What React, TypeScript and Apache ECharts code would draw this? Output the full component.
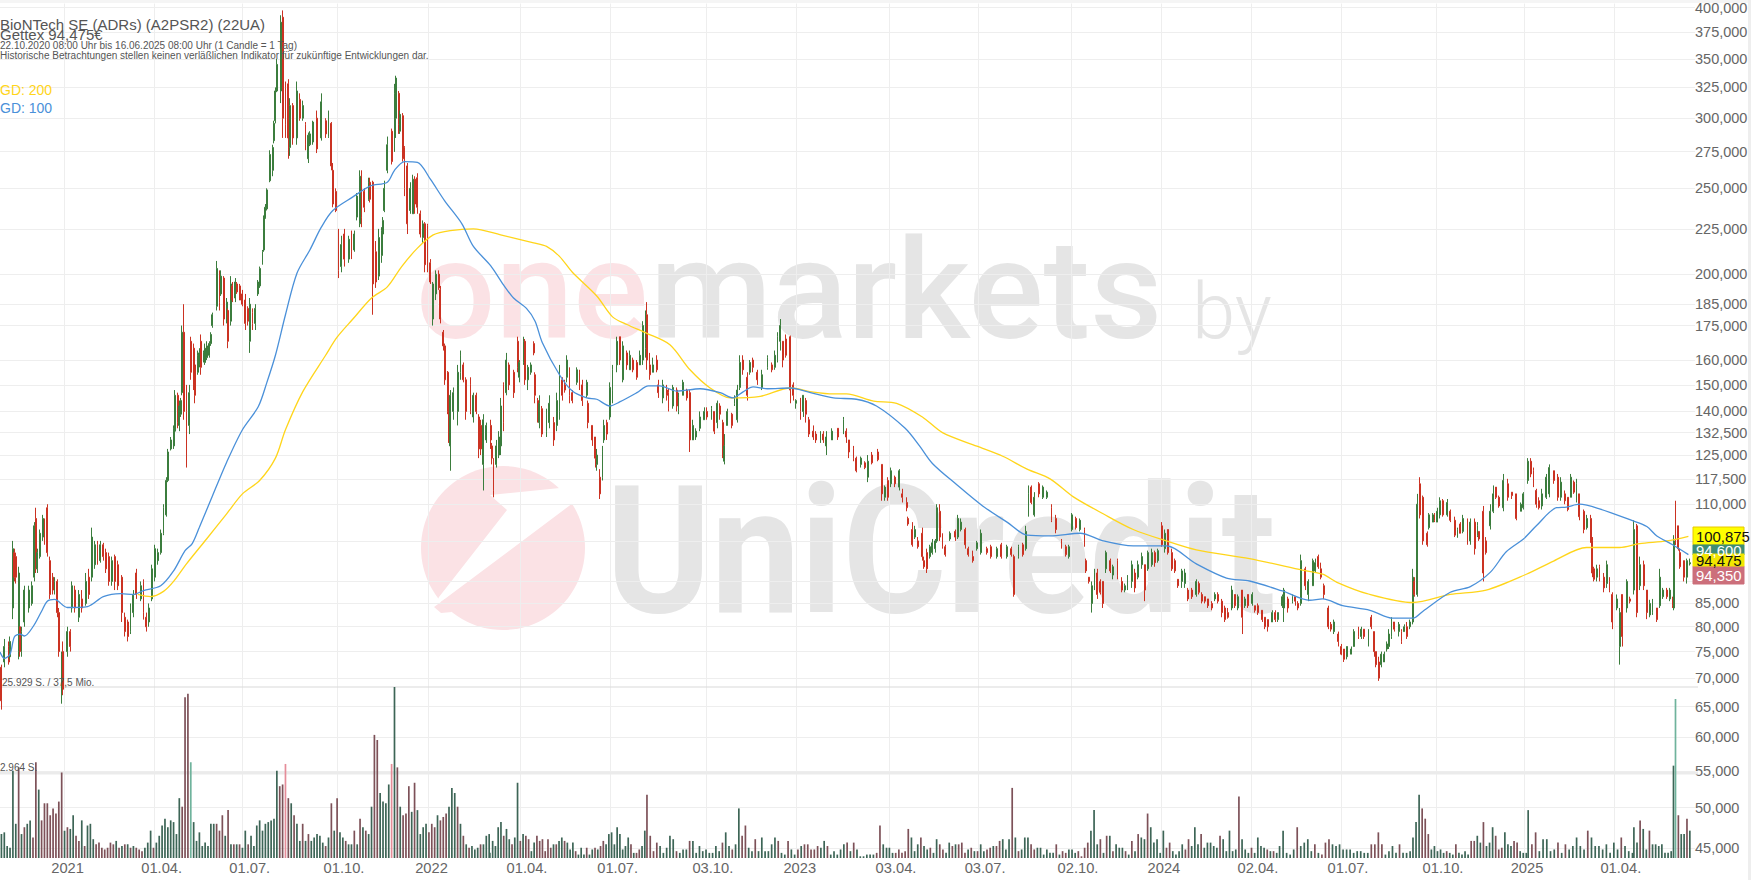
import React, { useEffect, useRef } from "react";
import * as echarts from "echarts";

// Trading-day position of each grid line, of each date label, and the label text
const xTickDays = [45, 107.8, 169.2, 234.9, 298.7, 362.5, 425.7, 492, 555.4, 619.7, 681.8, 746.6, 809.3, 872, 934.8, 1001, 1062.4, 1125];
const xLabelDays = [47.1, 112.7, 174.1, 239.8, 300.8, 367.4, 430.6, 496.9, 557.5, 624.6, 686.7, 751.5, 811.4, 876.9, 939.7, 1005.9, 1064.5, 1129.9];
const xTickLabels = ["2021", "01.04.", "01.07.", "01.10.", "2022", "01.04.", "01.07.", "03.10.", "2023", "03.04.", "03.07.", "02.10.", "2024", "02.04.", "01.07.", "01.10.", "2025", "01.04."];
const priceGridLines = [400, 375, 350, 325, 300, 275, 250, 225, 200, 185, 175, 160, 150, 140, 132.5, 125, 117.5, 110, 100, 90, 85, 80, 75, 70, 65, 60, 55, 50, 45];
const priceLabels = [400, 375, 350, 325, 300, 275, 250, 225, 200, 185, 175, 160, 150, 140, 132.5, 125, 117.5, 110, 85, 80, 75, 70, 65, 60, 55, 50, 45];

// [trading day, open, close, low, high]
const candles2020 = [
[1,72,66,64.5,72.5],[3,73,76,72,77.5],[6,76,73,72.5,77],[7,74,77,73.5,78],[9,84,98,81.6,100],[10,97,91,90,98],[11,96,91,89.5,97],[13,75,92,73.5,93.5],[14,80,75,74,80],[15,75,79,74,80],[17,81,88,80,89],[20,84,88,83,89],[22,85,89,84.5,90],[24,91,104,90,105],[25,106,93,92,109],[26,93,97,92,98],[28,96,102,95.5,103],[30,101,106,100,107],[31,105,100,99,106],[33,109,97,96,110],[35,95,87,86,96],[37,91,88,87,92],[38,88,90,87,91],[40,90,83,82,90.5],[41,83,75,74,84],[43,67,74.5,65.5,75],[44,75,68,67,77]];
const candles2021 = [
[47,75,79,74,80],[49,79,76,75,79.5],[50,84,89,83,90],[52,88,84,83,89],[55,82,87,81,88],[57,86,84,83,88],[60,85,90,84.5,92],[62,91,87,86,93],[64,91,101,90,103.5],[66,94,99,93,100],[68,99,95,94,100],[70,95,99,94.5,100],[72,99,96,95,99.5],[74,97,93,92,98],[76,96,90,89,97],[78,90,95,89,96],[80,96,90,88,96.5],[82,94,89,88,95],[85,91,83,81,91.5],[87,82,79,78,83],[89,81,78,77,81.5],[91,79,84,78.5,85],[93,83,87,82,88],[95,92,87,86,93],[98,86,89,85.5,90],[100,90,83,81.5,90.5],[102,82,80,79,83],[104,81,84,80,85],[106,86,93,85.5,94],[108,91,98,90,99],[110,95,97,94,98],[112,97,102,96.5,103],[114,102,109,101.5,110],[116,107,117,106.5,118],[117,117,126,116.5,127],[119,127,130,126.5,131],[121,128,134,127,135],[122,133,146,132,148],[124,146,136,134,147],[125,135,142,133,144],[126,139,144,138,145],[127,147,172,146,175],[128,172,140,137,185],[130,140,125,121,150],[132,135,147,132,150],[133,168,155,152,170],[135,165,150,148,167],[136,158,146,143,160],[138,155,162,154,164],[139,158,163,157,165],[140,168,157,154,171],[142,160,163,159,164],[143,159,165,158,167],[144,161,166,160,168],[146,162,167,161,168],[147,167,171,166,172],[148,175,180,174,181],[151,184,203,182,207],[153,200,186,182,202],[154,190,199,189,202],[156,198,178,175,199],[158,178,186,176,188],[159,182,168,165,183],[161,177,195,175,199],[162,194,187,186,196],[164,188,196,186,198],[165,195,191,190,196],[167,194,187,187,195],[169,190,185,184,192],[171,187,176,173,190],[173,183,177,175,184],[174,168,185,163,188],[176,181,176,173,183],[178,176,183,173,185],[180,190,196,189,197],[181,194,203,193,204],[183,206,212,205,213],[184,213,232,212,233],[185,232,238,231,240],[186,237,249,236,250],[188,255,273,254,276],[190,262,278,258,280],[191,283,296,281,298],[192,298,322,296,325],[193,322,345,321,350],[196,322,385,312,392],[197,390,300,285,397],[199,325,295,285,330],[201,328,285,270,332],[202,278,310,272,316],[204,310,285,280,312],[207,285,322,280,330],[209,315,300,298,320],[211,300,310,298,314],[213,295,280,276,297],[215,270,287,267,289],[216,280,288,279,290],[218,282,297,280,298],[221,300,277,274,306],[224,285,313,283,320],[227,298,288,285,300],[229,286,300,285,306],[231,296,265,262,297],[232,262,240,238,267],[234,248,236,235,250],[236,222,202,198,225],[238,204,216,201,221],[240,222,208,204,225],[243,208,219,206,221],[245,222,212,208,224],[247,213,222,212,224],[249,232,245,230,247],[251,228,258,226,262],[252,258,232,226,262],[254,248,238,235,250],[257,243,254,242,257],[258,254,243,241,257],[260,254,195,180,255],[262,212,196,193,218],[264,199,220,197,225],[266,210,224,206,226],[267,222,230,218,232],[268,236,250,235,255],[270,262,280,260,286],[273,290,268,266,292],[275,275,320,275,328],[276,300,333,285,335],[278,320,295,288,322],[279,290,303,288,306],[281,302,270,268,304],[282,278,250,245,279],[284,265,228,222,267],[286,236,250,234,254],[288,234,256,234,259],[289,256,240,234,258],[291,257,238,234,260],[293,234,222,220,236],[295,220,228,217,230],[296,228,205,201,229],[298,227,206,201,228]];
const candles2022 = [
[300,206,196,195,208],[302,178,195,175,196],[304,190,200,187,202],[306,200,193,192,202],[307,192,178,176,194],[309,172,166,164,173],[310,166,152,150,167],[312,155,140,139,155.5],[313,141,131,129,141.5],[314,128,146,120,148],[316,140,147,137,149],[319,140,155,135,158],[321,155,162,152,164],[323,158,152,151,159],[325,152,140,137,153],[328,150,140,139,153],[330,138,146,136,147],[332,146,140,139,147],[334,138,127,124,139],[335,135,127,125,137],[337,122,137,114,139],[339,130,135,129,136],[342,135,130,127,137],[343,128,124,122,129],[344,123,114,112,124],[346,122,128,121,130],[348,125,131,124,133],[349,128,142,125,145],[351,150,136,133,151],[353,147,160,146,163],[355,158,150,148,159],[358,155,147,145,156],[361,168,157,155,170],[362,153,159,151,160],[365,159,168,158,170],[366,168,152,150,169],[368,152,157,148,158],[370,155,158,154,159],[372,167,163,162,168],[373,154,146,143,155],[375,144,138,136,145],[376,136,143,134,146],[378,141,132,131,142],[381,133,139,131,141],[383,136,143,134,146],[386,136,130,128,138],[388,135,144,133,147],[390,140,155,137,158],[392,152,146,144,153],[394,150,148,147,152],[395,153,160,151,162],[397,155,146,143,157],[399,147,144,143,148],[402,151,156,150,157],[404,155,150,148,156],[406,150,144,142,152],[409,146,151,145,152],[410,143,136,134,144],[413,135,130,128,135],[415,131,124,121,131],[416,122,125,120,127],[418,118,113,111.5,120.5],[420,118,126,117,128],[421,130,135,129,137],[423,136,132,130,137],[425,138,149,137,151],[427,148,156,143,158],[430,158,168,155,170],[432,170,160,158,170],[434,152,166,151,168],[437,163,158,156,164],[439,156,162,156,164],[441,160,156,155,161],[444,159,153,152,160],[446,158,162,158,164],[448,160,175,158,177],[450,165,178,161,182],[451,180,160,156,186],[453,158,154,152,163],[455,155,158,155,161],[458,160,156,155,162],[459,150,147,145,152],[462,145,150,143,152],[465,148,146,144,150],[466,147,141,140,148.5],[469,142,149,141,150],[472,148,142,140,149],[473,140,145,139,147],[476,146,151,146,152],[479,148,145,144,148.5],[481,147,130,126,148],[483,130,135,130,137],[485,131,133,130,134],[488,134,138,133,140],[491,137,140,137,141.5],[493,140,138,137,141.5],[496,138,141,137,142],[498,140,133,132,140],[500,136,143,134,144],[502,142,139,137,143],[504,136,127,124,137],[505,123,128,122,132],[507,135,140,135,141],[510,139,135,134,139.5],[512,143,145,142,146],[514,137,148,136,150],[516,149,159,148,162],[518,160,156,154,162],[521,153,146,144,155],[523,155,159,154,160],[525,160,157,155,161],[528,155,152,150,156],[531,149,154,148,156],[535,157,161,156,162],[538,158,156,155,159],[540,157,162,156,164],[542,160,170,159,172],[544,168,175,164,178],[546,168,160,157,168],[548,169,162,161,171],[551,170,148,143,170.5],[553,150,146,144,151]];
const candles2023 = [
[555,143,144,141,144.5],[558,145,140,137,145],[560,140,146,138,146],[562,144,139,136,145],[564,137,132,131,138],[567,133,131,130,135],[569,132,130,129,133],[572,130,132,129,133],[574,132,130,129,133],[576,128,131,125,133],[580,130,133,130,134],[584,134,131,130,134],[588,132,137,132,138],[590,133,131,129,134],[592,130,126,124,130],[595,127,124,123,128],[597,124,120,119.5,124.5],[600,122,124,121,124.5],[603,122.5,121,120.5,123],[605,118,123,116.5,125],[608,125,122.5,122,126],[612,126,123.5,123,127],[615,122,113,111,122],[617,112,115,111,115.5],[619,117,112,111,118],[621,116,120,115,121],[624,118,116,115,118.5],[627,115,120,114,120.5],[629,113,112,110.5,114.5],[632,110.5,109,108,112],[633,106,104.5,104,106.5],[636,103,99,98.5,105],[638,101,103,100.5,104],[640,100,98.5,98,101],[643,102,96,95,103.5],[644,95,93.5,93,96],[646,97,93,92,98],[648,96,98.5,95.5,99],[650,97,99.5,96.5,100.5],[652,98,100,97,100.5],[653,100,109,99.5,110],[655,108,101,100,110],[657,101,98.5,98,102],[659,98.5,96.5,96,99],[662,100.5,102,100,102.5],[666,102.5,101,100,103],[668,101,106,100.5,107],[670,103,105,102.5,106],[673,103,99,98,103.5],[675,98,96.5,96,98.5],[678,96,95,94.5,97.5],[681,98,99.5,97.5,100],[684,97,102,96.5,103],[688,98,97,96.5,98.5],[691,98.5,96,95.5,99],[695,96,98,95.5,98.5],[698,99,96,95.5,99.5],[702,96,98.5,95.5,99],[705,98,96.5,96,98.5],[707,96,87,86.5,96.5],[710,96,98.5,95.5,99],[713,99,96.5,96,99.5],[715,98,102.5,97.5,104],[717,107,113,106.5,115.5],[719,115,110.5,110,115.5],[721,107,112,106.5,113.5],[724,116,113,112,116.5],[727,112,115,111.5,115.5],[730,112,113.5,111.5,114],[733,109,105.5,105,110],[736,106,103,102,107],[740,100,99,98,100.5],[743,98.5,96.5,96,99],[745,96,98.5,95.5,99],[747,103,107,102.5,107.5],[750,106,103.5,103,106.5],[753,103,105.5,102.5,106],[756,103,99,98.5,103.5],[757,95,92.5,92,95.5],[759,91,90,89.5,91],[761,85,89,83,90],[763,89,92,88,93],[765,92,87,86,93],[767,90,87.5,87,90.5],[769,90,85,84,90],[771,93,97,92,97.5],[774,95,92.5,92,95.5],[776,91.5,93.5,90.5,94],[779,95,91.5,90.5,95.5],[782,90,88,87.5,91],[784,88,89,87.5,89.5],[786,88.5,91,88,91.5],[789,90,94,88.5,95],[791,92,88.5,87.5,93],[793,91,94,90.5,95],[796,94,96,93,97],[798,94,88,85.5,94],[800,93,97,92.5,97.5],[803,94,97,93.5,98],[805,97,94.5,93.5,97.5],[807,95,97.5,94.5,98]];
const candles2024 = [
[810,104,99,98.5,105],[812,98,102,97,103],[814,103,97,96.5,103],[817,97,93,92.5,98],[819,95,92.5,92,95.5],[821,90.5,89,88.5,90.5],[824,90,92.5,88.5,93],[826,89.5,92,88.5,93],[828,88,86,85.5,88.5],[831,88,86.5,86,88.5],[834,87,90,86.5,90.5],[836,89.5,87.5,87,90],[838,87,85.5,85,87.5],[840,86.5,85.5,85,86.5],[842,86,84.5,84,86],[845,85,84,83.5,85.5],[847,86,87,85.5,87.5],[849,87,85.5,85,87.5],[852,85.5,83,82,86],[854,84,81.5,81,84.5],[856,83,82,81.7,84],[859,84,88,83.5,89],[861,87,84.5,84,87],[863,84,86.5,83.5,87],[866,88,82,78.5,88],[868,84.5,86,84,86.5],[870,87,84.5,84,87],[873,85,87,84.5,87.5],[875,84.5,83.5,83,84.5],[877,84.5,83,82.5,85],[880,83.5,81.5,81,83.5],[882,82,80,79.5,82],[884,81.5,80,79,81.5],[887,81,83,81,83.5],[889,83,81.5,81,83.5],[891,81.5,83,81,83],[894,84.5,86.5,84,87],[895,84,88,81,88.5],[898,86,84,83,86.5],[901,85.5,86.5,85,87],[903,86.5,85.5,84.5,86.5],[905,85,84,83.5,85.5],[907,85,95,84.5,96.5],[910,93,89,88,93.5],[912,87,90,85.5,90.5],[915,89,95,89,95.5],[917,92.5,94.5,92,95.5],[919,96,93.5,93,96.5],[921,93,91,90.5,94.5],[923,89,87,86,89.5],[926,84,80,79.5,84.5],[928,80.5,79.5,79,81],[930,79,81,78.5,81.5],[933,78.5,77,76,79],[935,76,74.5,74.3,76.5],[937,75.5,73.5,73,75.5],[939,74,76,73.5,76],[942,74.5,75.5,74.5,76],[944,76,79,76,79.5],[947,79.5,78,77.5,80],[949,78,79.5,77.5,80],[951,79.5,78,77.5,79.5],[954,76.5,78.5,76,79.5],[956,82,80,79.5,82.5],[958,79,75,74,79],[959,75,72.5,72,75],[961,73,70,69.5,74],[963,72.5,74.5,72,75],[965,73,74.5,73,75],[967,75.5,76.5,75,77],[968,76,78.5,75.5,79.5],[970,78,81,77.5,82],[972,81,79.5,79,81],[975,79,80.5,78,81],[977,79,77,76.5,79.5],[979,79,80,79,80.5],[981,80,78,77.5,81],[983,80,81,79.5,81.5],[985,81,91,80.5,93],[986,90,87,86.5,91],[988,87,110,86.5,113],[990,116,107,106,118],[992,112,100,99,112.5],[995,102,99,98.5,102.5],[996,103.5,107,103,107.5],[999,105,107,105,107.5],[1000,107,105.5,105,107.5],[1002,105,108,105,109],[1004,107,111,106,112],[1006,111,107,106.5,111.5],[1009,107,110.5,106.5,111.5],[1011,108,105.5,105,108.5],[1014,105.5,101.5,101,106.5],[1016,101,103,100.8,103.5],[1018,104.5,102,102,105],[1020,102.5,106,102,107],[1023,105,100,99,106],[1025,100,105,99,106],[1028,105,98,96.5,106],[1030,101.5,104,101,105],[1031,102.5,100.5,100,102.5],[1034,108,92,90,109.5],[1036,100,97,96.5,101],[1039,104,108,103,110],[1041,108,113,107.5,115.5],[1043,115,112,111.5,115],[1045,112,109.5,109,112.5],[1048,109,117,108,119],[1051,116,112,111,117.5],[1054,113.5,112.5,111.5,113.5],[1057,113,106,105.5,113],[1060,108,110,108,110.5]];
const candles2025 = [
[1062,109,113,108.5,113.5],[1065,117,123,116,124],[1067,123,119,118,124],[1069,120,116,115,121],[1071,114,110,109,114.5],[1073,111,109,108.5,112],[1075,109.5,113,108.5,114.5],[1078,112,118,111.5,119],[1080,113,121,112,122],[1083,120,117,116,120],[1086,118,112,111,119],[1088,112,116.5,111,118],[1091,113,111,110,114],[1093,112,108.5,108,112],[1095,112,118,112,119],[1097,116.5,113.5,113,117],[1099,111,116,110.5,117.5],[1101,113,106.5,105.5,113],[1104,108,103,102,108.5],[1106,103.5,106,103,107],[1109,106,100,99.5,107],[1110,100,92,91,101],[1111,93,90.5,90,93.5],[1113,91,93,90,94],[1115,93.5,91,90,94],[1118,91,88.5,87.5,92],[1120,89.5,94,88.5,95],[1122,90,88,87.5,91],[1124,87,81,79.5,87.5],[1127,84,86,83.5,87],[1129,76,83,72.5,84],[1131,87,78,76,87],[1134,84,90,83,90.5],[1136,86,85.5,85,86.5],[1139,88,103,87,105.5],[1141,104,83,82,104.5],[1143,89,94,88,96],[1146,94,89,88,95],[1148,88,83,81.6,88],[1150,82.5,85,82,85.8],[1152,83,85.5,82.5,86],[1155,84,81.5,81,84],[1157,84.5,91,84,93],[1159,86.5,88,86,88.5],[1162,88,86.5,86,88.5],[1164,86,88,85.5,88.5],[1166,86,84.5,84,86.5],[1167,84,100,83.5,101.5],[1168,110,99,99,111],[1170,104,98,97.5,104],[1171,97,93.5,93,98],[1174,95,91,90,95],[1176,91,95,89.5,95.5],[1178,94.2,94.5,93.8,95.5]];

// [trading day, average]
const gd100 = [[0,74.9],[3,73.7],[7,74.5],[10,77.9],[14,78.5],[17,78.1],[23,80],[29,83.3],[33,85.5],[38,85.9],[47,84.1],[61,84.3],[72,86.5],[84,87.2],[93,87],[100,87.9],[112,89],[121,92.5],[129,97.5],[134,99.3],[139,103.6],[148,112.3],[158,122.7],[169,133.5],[180,141.7],[186,150.9],[192,162],[199,180],[207,200.5],[216,213],[224,226],[232,236],[246,244.5],[258,251.5],[270,254],[275,262],[282,268],[291,267.5],[300,256],[310,242],[322,228],[330,215],[342,204.5],[351,194.5],[358,188],[367,183],[373,177],[378,167.5],[390,154],[399,147.6],[409,145],[416,144.5],[425,142],[432,143.5],[444,147],[452,149.6],[460,149.6],[472,147.6],[488,148.5],[502,147],[511,145],[518,147.3],[525,149.2],[535,148.5],[551,148.8],[565,147],[581,145],[597,144.5],[611,142],[631,134],[641,128],[650,122.3],[667,115.7],[685,109.5],[702,105],[716,101.5],[732,101.3],[753,102],[769,100],[790,98.7],[813,98.7],[834,94.2],[855,90.8],[871,90.1],[894,87.8],[913,85.7],[922,86],[936,84.5],[955,83.5],[971,81.8],[985,81.8],[992,83.3],[1011,87.5],[1025,88.8],[1039,92.2],[1050,97.2],[1062,100.5],[1071,104],[1085,109],[1092,109.2],[1101,110],[1115,108.7],[1138,105.4],[1148,103.8],[1155,101.3],[1166,99],[1177,96.5]];
const gd200 = [[96,87],[105,86.5],[114,87.7],[121,90],[130,94.2],[144,100.5],[158,107.3],[169,113],[181,117],[192,124],[199,133.5],[211,147.3],[227,162],[235,169.8],[246,178],[259,188],[270,193.5],[280,204],[291,214],[302,221.5],[314,224],[330,225],[349,221.5],[372,217],[381,215],[390,209.5],[399,201],[416,189],[427,179],[437,175.5],[451,171.5],[467,166.5],[481,156],[495,148.8],[509,145],[530,145.6],[551,148.8],[567,147.2],[581,146.5],[590,146.5],[609,143.8],[625,143],[643,138],[657,132.5],[681,127.9],[699,124.6],[716,120.5],[732,117.5],[748,112.2],[769,107.3],[790,103],[813,100],[834,97.7],[871,95.5],[908,92.7],[922,91.7],[932,89.8],[953,87.2],[985,85.2],[1011,87],[1036,88],[1064,91.7],[1083,94.9],[1106,98.3],[1129,98.3],[1143,99.3],[1162,100],[1177,101.2]];

// Volume as a share of the panel height; negative = falling day
const volume2020to2022 = [14,15,7,6,51,20,-53,14,-18,20,22,-12,-56,40,-22,-32,-32,-25,-29,-26,-33,-50,16,-18,17,25,-13,-10,22,-7,19,20,11,-8,-9,-6,-5,-6,-9,-8,10,-6,7,-8,8,-6,7,-6,-5,-4,6,9,16,-6,9,13,19,23,18,22,21,14,35,-30,-94,-96,56,21,10,15,7,9,7,20,20,-20,-16,-25,13,-28,8,-8,8,-8,6,16,-8,13,7,19,22,16,20,21,22,23,51,-42,-43,-55,-35,32,-25,20,10,-20,10,-14,10,12,14,13,9,-7,12,-32,16,-35,15,12,-10,8,8,-16,8,-23,18,-16,14,30,-72,-69,38,33,32,43,-55,100,-53,30,-25,-26,-42,27,-44,28,14,18,20,-15,-20,-18,25,-22,-24,-26,30,41,38,-30,20,-13,8,-6,7,5,6,-8,8,13,14];
const volumeMid2022 = [3,10,7,18,21,-13,17,11,-8,12,44,-10,14,-13,-11,4,9,-13,-10,-11,-4,-11,-6,8,-8,10,12,-10,9,5,9,-4,2,6,2,-6,2,5,-6,5,-7,-10,8,14,15,8,18,14,5,7,12,-8,3,-3,-5,7,16];
const volume2022to2023 = [-37,-13,-4,-9,7,3,6,13,11,-4,3,5,5,-10,10,3,7,4,5,3,3,7,4,-9,15,7,-5,8,29,-13,-19,6,4,-11,4,12,4,4,8,12,-10,3,2,-10,5,2,-5,7,-8,-8,-5,-5,-7,6,10,-7,2,4,2,5,8,-9,4,-9,5,1,1,2,2,2,-3,-19,8,6];
const volume2023to2024 = [6,3,-3,-5,-3,-4,-17,12,4,8,-12,7,5,-6,3,11,-8,-5,3,9,-7,8,-8,-9,-3,5,-6,4,-4,8,4,-5,-6,7,-7,-10,11,5,11,-41,12,-4,5,12,12,-8,-5,6,6,2,5,3,3,-8,2,-4,-3,5,5,3,-4,-1,-6,-9,16,28,8,-11,3,-13,13,-4,8,6,6,-4,2,-10,4,-14,12,11,-26,18,9,11,3,16,-6,-9,4,2,4,8,-5,-11,7,18,8,-14,6,9,9,7,6,-13,11,4,16,4,5,-36,11,5,3,-6,3,12,7,6,-5,4,-4,3];
const volumeSummer2024 = [7,16,3,2,5,-18,7,9,11,4,-8,3,-2,-9,-11,8,7,8,5,5,5,3,4,4,3,3,-8,-8,-15,-8,2,4,7,3,-8,3,3,4];
const volumeAutumn2024 = [12,21,37,-29,-23,-14,5,7,4,5,3,-4,3,2,-8,3,2,4,2,-10,-10,13,9,-21,7,9,18,-13,-5,-6,15,8,7,-10,-9,4,3,3];
const volumeEarly2025 = [28,-8,-15,4,11,11,4,5,-9,3,-8,5,7,12,7,5,-16,12,7,7,5,8,3,9,5,-12,7,4,3];
const volumeSpring2025 = [18,9,-22,17,5,-16,8,8,7,8,3,3,4];
const volumeJune2025 = [-25,14,14,-23,16];
// first and last trading day covered by each volume list
const volumeSpans: [number[], number, number][] = [
  [volume2020to2022, 1, 341], [volumeMid2022, 341.5, 449.5], [volume2022to2023, 451, 618], [volume2023to2024, 620, 890],
  [volumeSummer2024, 892, 983], [volumeAutumn2024, 985, 1064], [volumeEarly2025, 1065.3, 1138],
  [volumeSpring2025, 1139, 1165], [[54], 1166.6, 1166.6], [[93], 1168, 1168], [volumeJune2025, 1170, 1178],
];
const lightVolumeDays = [133, 199, 273, 1168];

const FONT = "'Liberation Sans', Arial, sans-serif";
const DAY_MAX = 1695 / 1.4345;

const fmtPrice = (v: number) => v.toFixed(3).replace(".", ",");

export default function App() {
  const ref = useRef<HTMLDivElement>(null);
  useEffect(() => {
    document.body.style.margin = "0";
    const chart = echarts.init(ref.current!, undefined, { renderer: "svg" });
    const allCandles = [...candles2020, ...candles2021, ...candles2022, ...candles2023, ...candles2024, ...candles2025];
    const volumeData: any[] = [];
    volumeSpans.forEach(([vals, a, b]) => {
      vals.forEach((v, i) => {
        const d = vals.length > 1 ? a + ((b - a) * i) / (vals.length - 1) : a;
        const light = lightVolumeDays.some((l) => Math.abs(l - d) < 1);
        const up = v > 0;
        volumeData.push({
          value: [d, Math.abs(v)],
          itemStyle: { color: light ? (up ? "#6fb39c" : "#e58d99") : up ? "#3d6556" : "#7d5158" },
        });
      });
    });
    const label = (text: string, x: number, y: number, fontSize: number, fill = "#555") => ({
      type: "text", x, y, z: 20, silent: true,
      style: { text, fontSize, fill, fontFamily: FONT, verticalAlign: "middle", align: "left" },
    });
    const box = (text: string, y: number, h: number, bg: string, fg: string, border?: string) => [
      { type: "rect", z: 30, shape: { x: 1693, y, width: 51, height: h }, style: { fill: bg, stroke: border || bg, lineWidth: 1 } },
      { type: "text", z: 31, x: 1696, y: y + h / 2 + 1, style: { text, fontSize: 14.9, fill: fg, fontFamily: FONT, verticalAlign: "middle" } },
    ];
    const watermark = (text: string, x: number, y: number, fontSize: number, fill: string, fontWeight: any, scaleX = 1) => ({
      type: "text", x, y, z: 0, scaleX, silent: true,
      style: { text, fontSize, fill, fontFamily: "Roboto", fontWeight, verticalAlign: "middle" },
    });
    const PINK = "#fbe2e5", GREY = "#e5e5e5";
    chart.setOption({
      animation: false,
      backgroundColor: "#fff",
      graphic: [
        { type: "rect", z: 0, shape: { x: 0, y: 0, width: 1751, height: 3 }, style: { fill: "#f5f5f5" } },
        { type: "rect", z: 0, shape: { x: 1748, y: 0, width: 3, height: 880 }, style: { fill: "#eeeeee" } },
        { type: "rect", z: 1, shape: { x: 0, y: 686.5, width: 1698, height: 1 }, style: { fill: "#d9d9d9" } },
        { type: "rect", z: 1, shape: { x: 0, y: 771.5, width: 1698, height: 3 }, style: { fill: "#ebebeb" } },
        watermark("one", 416, 290, 140, PINK, 500),
        watermark("markets", 650, 290, 140, GREY, 500),
        watermark("by", 1192, 311, 78, GREY, 300),
        watermark("UniCredit", 606, 551, 178, GREY, 700, 0.895),
        { type: "circle", z: 0, shape: { cx: 503, cy: 548, r: 82 }, style: { fill: PINK } },
        { type: "polygon", z: 0, shape: { points: [[560, 488], [490, 495], [507, 510], [439, 597], [434, 607], [577, 500], [590, 480]] }, style: { fill: "#fff" } },
        { type: "polygon", z: 0, shape: { points: [[434, 607], [441, 613], [452, 612], [445, 599]] }, style: { fill: PINK } },
        label("BioNTech SE (ADRs) (A2PSR2) (22UA)", 0, 24, 15),
        label("Gettex 94,475€", 0, 34, 15),
        label("22.10.2020 08:00 Uhr bis 16.06.2025 08:00 Uhr (1 Candle = 1 Tag)", 0, 45, 10),
        label("Historische Betrachtungen stellen keinen verläßlichen Indikator für zukünftige Entwicklungen dar.", 0, 55, 10),
        label("GD: 200", 0, 90, 14, "#ffd51a"),
        label("GD: 100", 0, 108, 14, "#4a90d9"),
        label("25.929 S. / 37,5 Mio.", 2, 682, 10),
        label("2.964 S.", 0, 767, 10),
        ...box("100,875", 527, 18, "#ffff00", "#111", "#e8c800"),
        ...box("94,600", 545, 10, "#3f8d72", "#fff"),
        ...box("94,350", 566, 18, "#cc6f7b", "#fff"),
        ...box("94,475", 554, 12, "#f2e600", "#111"),
      ],
      grid: [
        { left: 0, top: 3, width: 1695, height: 855 },
        { left: 0, top: 687, width: 1695, height: 171 },
      ],
      xAxis: [
        {
          type: "value", gridIndex: 0, min: 0, max: DAY_MAX,
          axisLine: { show: false }, axisTick: { show: false, customValues: xTickDays },
          splitLine: { show: true, lineStyle: { color: "#eeeeee", width: 1 } },
          axisLabel: {
            customValues: xLabelDays, margin: 2, fontSize: 14.7, color: "#666", fontFamily: FONT,
            hideOverlap: false, showMinLabel: true, showMaxLabel: true,
            formatter: (v: number) => { const i = xLabelDays.indexOf(v); return i >= 0 ? xTickLabels[i] : ""; },
          },
        },
        { type: "value", gridIndex: 1, min: 0, max: DAY_MAX, show: false },
      ],
      yAxis: [
        {
          type: "log", gridIndex: 0, position: "right", min: 43.86, max: 404.18, logBase: 10,
          axisLine: { show: false }, axisTick: { show: false, customValues: priceGridLines },
          splitLine: { show: true, lineStyle: { color: "#eeeeee", width: 1 } },
          axisLabel: { customValues: priceLabels, margin: 0, fontSize: 14.5, color: "#666", fontFamily: FONT, padding: [0, 0, 10, 0], formatter: (v: number) => fmtPrice(v) },
        },
        { type: "value", gridIndex: 1, min: 0, max: 100, show: false },
      ],
      series: [
        {
          type: "bar", xAxisIndex: 1, yAxisIndex: 1, data: volumeData, barWidth: 1.7, z: 2, silent: true,
        },
        {
          type: "candlestick", xAxisIndex: 0, yAxisIndex: 0, data: allCandles, barWidth: 1.4, z: 3, silent: true,
          encode: { x: 0, y: [1, 2, 3, 4] },
          itemStyle: { color: "#3b7d3d", color0: "#cb3222", borderColor: "#3b7d3d", borderColor0: "#cb3222", borderWidth: 1 },
        },
        {
          type: "line", xAxisIndex: 0, yAxisIndex: 0, data: gd200, showSymbol: false, smooth: 0.3, z: 4, silent: true,
          lineStyle: { color: "#ffd51a", width: 1.3 },
        },
        {
          type: "line", xAxisIndex: 0, yAxisIndex: 0, data: gd100, showSymbol: false, smooth: 0.3, z: 5, silent: true,
          lineStyle: { color: "#4a90d9", width: 1.3 },
        },
      ],
    });
    return () => chart.dispose();
  }, []);
  return <div ref={ref} style={{ position: "absolute", left: 0, top: 0, width: 1751, height: 880 }} />;
}
